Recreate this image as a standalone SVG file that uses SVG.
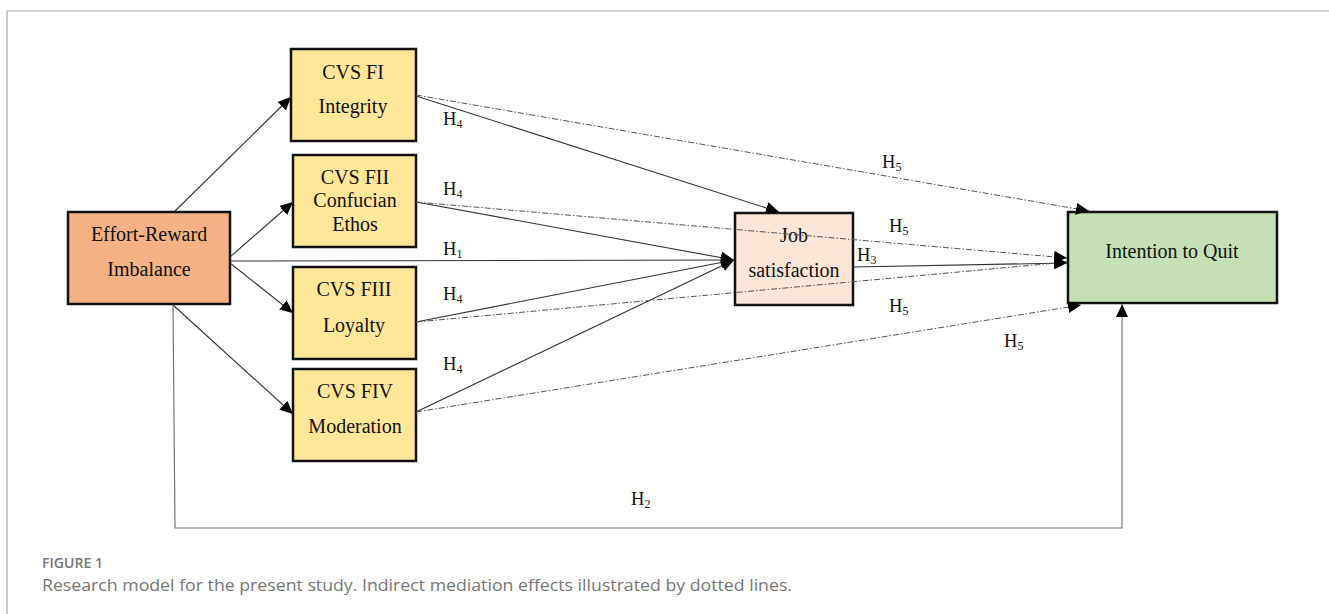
<svg xmlns="http://www.w3.org/2000/svg" width="1329" height="614" viewBox="0 0 1329 614">
<defs>
<marker id="ah" markerUnits="userSpaceOnUse" markerWidth="14" markerHeight="12" refX="13" refY="6" orient="auto">
<path d="M0,0 L13,6 L0,12 Z" fill="#000"/>
</marker>
<style>
.box{stroke:#111;stroke-width:2.5}
.t{font-family:"Liberation Serif","Times New Roman",serif;font-size:20px;fill:#111;text-anchor:middle}
.h{font-family:"Liberation Serif","Times New Roman",serif;font-size:18.5px;fill:#111}
.h tspan{font-size:12px}
.c{fill:none;stroke:#333;stroke-width:1.1}
.d{fill:none;stroke:#555;stroke-width:1;stroke-dasharray:6 2 1.5 2}
.cap{font-family:"Open Sans","Liberation Sans",sans-serif;fill:#777}
</style>
</defs>
<rect width="1329" height="614" fill="#fff"/>
<path d="M7,614 L7,11 L1329,11" fill="none" stroke="#aaa" stroke-width="1.2"/>

<g id="eri"><rect class="box" x="68" y="212" width="162" height="92" fill="#F4B183"/>
<text class="t" x="149" y="241">Effort-Reward</text><text class="t" x="149" y="276">Imbalance</text></g>
<g id="f1"><rect class="box" x="291" y="49" width="125" height="92" fill="#FFE699"/>
<text class="t" x="353" y="79">CVS FI</text><text class="t" x="353" y="113">Integrity</text></g>
<g id="f2"><rect class="box" x="293" y="155" width="123" height="92" fill="#FFE699"/>
<text class="t" x="355" y="184">CVS FII</text><text class="t" x="355" y="207">Confucian</text><text class="t" x="355" y="231">Ethos</text></g>
<g id="f3"><rect class="box" x="293" y="267" width="123" height="92" fill="#FFE699"/>
<text class="t" x="354" y="296">CVS FIII</text><text class="t" x="354" y="332">Loyalty</text></g>
<g id="f4"><rect class="box" x="293" y="369" width="123" height="92" fill="#FFE699"/>
<text class="t" x="355" y="398">CVS FIV</text><text class="t" x="355" y="433">Moderation</text></g>
<g id="js"><rect class="box" x="735" y="213" width="118" height="92" fill="#FBE5D6"/>
<text class="t" x="794" y="242">Job</text><text class="t" x="794" y="277">satisfaction</text></g>
<g id="iq"><rect class="box" x="1068" y="212" width="209" height="91" fill="#C5E0B4"/>
<text class="t" x="1172" y="258">Intention to Quit</text></g>

<g id="connectors">
<line class="c" x1="175" y1="211" x2="291" y2="97" marker-end="url(#ah)"/>
<line class="c" x1="230" y1="257" x2="293" y2="202" marker-end="url(#ah)"/>
<line class="c" x1="230" y1="263" x2="293" y2="313" marker-end="url(#ah)"/>
<line class="c" x1="173" y1="305" x2="293" y2="414" marker-end="url(#ah)"/>
<line class="c" x1="230" y1="261" x2="734" y2="260" marker-end="url(#ah)"/>
<path d="M173,305 L175,528 L1122,528 L1122,304" fill="none" stroke="#777" stroke-width="1.2" marker-end="url(#ah)"/>
<line class="c" x1="416" y1="96" x2="779" y2="212" marker-end="url(#ah)"/>
<line class="c" x1="416" y1="202" x2="734" y2="260" marker-end="url(#ah)"/>
<line class="c" x1="416" y1="322" x2="734" y2="260" marker-end="url(#ah)"/>
<line class="c" x1="416" y1="412" x2="734" y2="260" marker-end="url(#ah)"/>
<line class="c" x1="853" y1="267" x2="1067" y2="263" marker-end="url(#ah)"/>
<line class="d" x1="416" y1="95" x2="1089" y2="211" marker-end="url(#ah)"/>
<line class="d" x1="416" y1="202" x2="1067" y2="258" marker-end="url(#ah)"/>
<line class="d" x1="416" y1="322" x2="1067" y2="262" marker-end="url(#ah)"/>
<line class="d" x1="416" y1="412" x2="1081" y2="305" marker-end="url(#ah)"/>
</g>

<g id="labels">
<text class="h" x="443" y="125">H<tspan dy="3">4</tspan></text>
<text class="h" x="443" y="195">H<tspan dy="3">4</tspan></text>
<text class="h" x="443" y="255">H<tspan dy="3">1</tspan></text>
<text class="h" x="443" y="300">H<tspan dy="3">4</tspan></text>
<text class="h" x="443" y="370">H<tspan dy="3">4</tspan></text>
<text class="h" x="882" y="168">H<tspan dy="3">5</tspan></text>
<text class="h" x="889" y="232">H<tspan dy="3">5</tspan></text>
<text class="h" x="857" y="261">H<tspan dy="3">3</tspan></text>
<text class="h" x="889" y="312">H<tspan dy="3">5</tspan></text>
<text class="h" x="1004" y="347">H<tspan dy="3">5</tspan></text>
<text class="h" x="631" y="505">H<tspan dy="3">2</tspan></text>
</g>

<text class="cap" x="42" y="568" font-size="14" font-weight="600" textLength="61" lengthAdjust="spacingAndGlyphs">FIGURE 1</text>
<text class="cap" x="42" y="591" font-size="16.5" textLength="750" lengthAdjust="spacingAndGlyphs">Research model for the present study. Indirect mediation effects illustrated by dotted lines.</text>
</svg>
